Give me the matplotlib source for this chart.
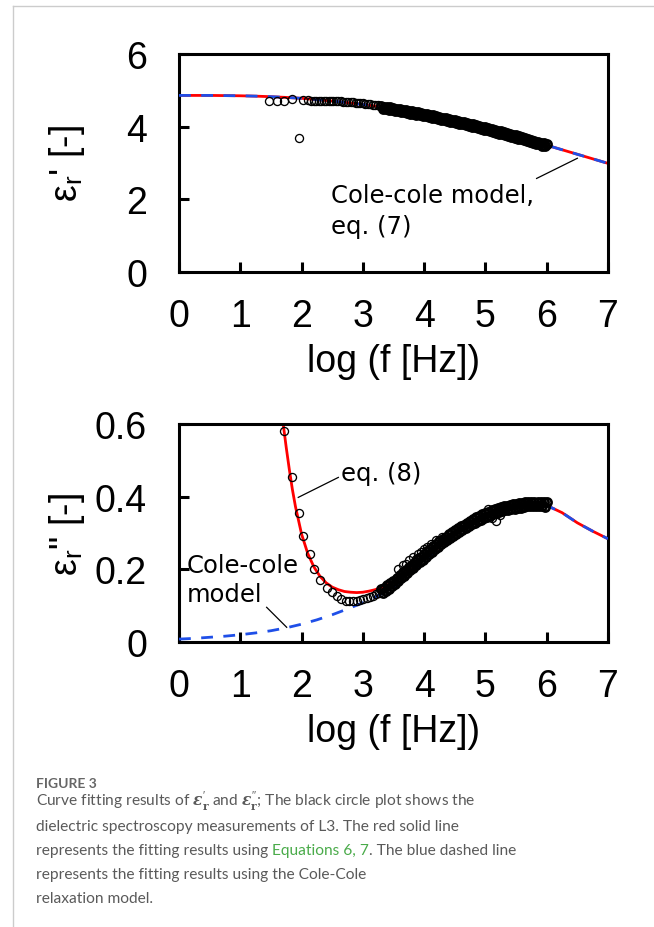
import matplotlib
matplotlib.use('Agg')
import matplotlib.pyplot as plt
from matplotlib.lines import Line2D
from matplotlib.text import Annotation

plt.rcParams['font.family'] = ['Liberation Sans', 'DejaVu Sans']
plt.rcParams['mathtext.fontset'] = 'custom'
plt.rcParams['mathtext.rm'] = 'Liberation Sans'
plt.rcParams['mathtext.it'] = 'DejaVu Serif:italic:bold'
plt.rcParams['mathtext.bf'] = 'DejaVu Serif:bold'
plt.rcParams['lines.scale_dashes'] = False

# ---------------- data ----------------
x_ticks = [0, 1, 2, 3, 4, 5, 6, 7]
y1_ticks = [0, 2, 4, 6]
y2_ticks = [0, 0.2, 0.4, 0.6]
y2_ticklabels = ['0', '0.2', '0.4', '0.6']

# fitted curves (log f, value)
fit_x = [0.0, 0.25, 0.5, 0.75, 1.0, 1.25, 1.5, 1.75, 2.0, 2.25, 2.5, 2.75, 3.0, 3.25,
         3.5, 3.75, 4.0, 4.25, 4.5, 4.75, 5.0, 5.25, 5.5, 5.75, 6.0, 6.25, 6.5, 6.75, 7.0]
eps1_fit = [4.86, 4.86, 4.86, 4.855, 4.85, 4.84, 4.825, 4.805, 4.78, 4.745, 4.705, 4.66,
            4.61, 4.555, 4.49, 4.415, 4.335, 4.245, 4.15, 4.055, 3.955, 3.845, 3.73,
            3.61, 3.49, 3.365, 3.24, 3.115, 2.99]
eps2_cole = [0.008, 0.010, 0.013, 0.016, 0.020, 0.025, 0.031, 0.039, 0.049, 0.061, 0.075,
             0.091, 0.108, 0.128, 0.150, 0.180, 0.224, 0.260, 0.293, 0.321, 0.345, 0.362,
             0.372, 0.378, 0.376, 0.356, 0.328, 0.305, 0.284]
eq8_x = [1.70, 1.75, 1.80, 1.85, 1.90, 2.00, 2.10, 2.20, 2.30, 2.40, 2.50, 2.60, 2.70,
         2.80, 2.90, 3.00, 3.10, 3.20, 3.30, 3.40, 3.50, 3.75, 4.00, 4.25, 4.50, 4.75,
         5.00, 5.25, 5.50, 5.75, 6.00, 6.25, 6.50, 6.75, 7.00]
eq8_y = [0.600, 0.535, 0.475, 0.420, 0.373, 0.297, 0.244, 0.207, 0.181, 0.163, 0.151,
         0.144, 0.139, 0.137, 0.136, 0.137, 0.140, 0.144, 0.150, 0.157, 0.166, 0.194,
         0.228, 0.262, 0.295, 0.322, 0.345, 0.362, 0.372, 0.378, 0.376, 0.356, 0.328,
         0.305, 0.284]

# measurements, low-frequency (sparse) part
meas1_x_low = [1.47, 1.60, 1.71, 1.85, 1.95, 2.02, 2.10, 2.15, 2.20, 2.24, 2.28, 2.32,
               2.36, 2.40, 2.44, 2.48, 2.52, 2.56, 2.60, 2.64, 2.68, 2.72, 2.76, 2.80,
               2.84, 2.88, 2.92, 2.96, 3.00, 3.04, 3.08, 3.12, 3.16, 3.20, 3.24, 3.28]
meas1_y_low = [4.71, 4.71, 4.72, 4.75, 3.70, 4.73, 4.74, 4.72, 4.71, 4.70, 4.71, 4.72,
               4.71, 4.70, 4.71, 4.72, 4.71, 4.70, 4.71, 4.70, 4.69, 4.69, 4.68, 4.68,
               4.67, 4.66, 4.66, 4.65, 4.64, 4.63, 4.63, 4.62, 4.61, 4.60, 4.59, 4.58]
meas2_x_low = [1.72, 1.85, 1.96, 2.02, 2.13, 2.21, 2.30, 2.41, 2.49, 2.57, 2.65, 2.72,
               2.78, 2.84, 2.90, 2.96, 3.01, 3.06, 3.11, 3.16, 3.21, 3.26]
meas2_y_low = [0.580, 0.455, 0.355, 0.293, 0.242, 0.201, 0.171, 0.150, 0.137, 0.126,
               0.118, 0.114, 0.112, 0.112, 0.113, 0.115, 0.117, 0.120, 0.124, 0.127,
               0.131, 0.135]

# measurements, dense part (shared log f grid)
meas_x_dense = [3.300, 3.325, 3.350, 3.375, 3.400, 3.425, 3.450, 3.475, 3.500, 3.525,
                3.550, 3.575, 3.600, 3.625, 3.650, 3.675, 3.700, 3.725, 3.750, 3.775,
                3.800, 3.825, 3.850, 3.875, 3.900, 3.925, 3.950, 3.975, 4.000, 4.025,
                4.050, 4.075, 4.100, 4.125, 4.150, 4.175, 4.200, 4.225, 4.250, 4.275,
                4.300, 4.325, 4.350, 4.375, 4.400, 4.425, 4.450, 4.475, 4.500, 4.525,
                4.550, 4.575, 4.600, 4.625, 4.650, 4.675, 4.700, 4.725, 4.750, 4.775,
                4.800, 4.825, 4.850, 4.875, 4.900, 4.925, 4.950, 4.975, 5.000, 5.025,
                5.050, 5.075, 5.100, 5.125, 5.150, 5.175, 5.200, 5.225, 5.250, 5.275,
                5.300, 5.325, 5.350, 5.375, 5.400, 5.425, 5.450, 5.475, 5.500, 5.525,
                5.550, 5.575, 5.600, 5.625, 5.650, 5.675, 5.700, 5.725, 5.750, 5.775,
                5.800, 5.825, 5.850, 5.875, 5.900, 5.925, 5.950, 5.975, 6.000]
meas1_y_dense = [4.57, 4.49, 4.55, 4.48, 4.54, 4.47, 4.53, 4.45, 4.52, 4.44,
                 4.50, 4.42, 4.49, 4.41, 4.47, 4.39, 4.46, 4.38, 4.44, 4.36,
                 4.42, 4.35, 4.41, 4.33, 4.39, 4.31, 4.38, 4.30, 4.36, 4.28,
                 4.34, 4.26, 4.32, 4.25, 4.31, 4.23, 4.29, 4.21, 4.27, 4.19,
                 4.25, 4.17, 4.23, 4.15, 4.21, 4.13, 4.19, 4.12, 4.18, 4.10,
                 4.16, 4.08, 4.14, 4.06, 4.12, 4.04, 4.10, 4.02, 4.08, 4.00,
                 4.06, 3.98, 4.04, 3.96, 4.02, 3.94, 4.00, 3.92, 3.98, 3.90,
                 3.96, 3.88, 3.94, 3.86, 3.91, 3.83, 3.89, 3.81, 3.87, 3.79,
                 3.85, 3.77, 3.82, 3.74, 3.80, 3.72, 3.78, 3.70, 3.76, 3.67,
                 3.73, 3.65, 3.71, 3.63, 3.68, 3.60, 3.66, 3.58, 3.64, 3.55,
                 3.61, 3.53, 3.59, 3.51, 3.56, 3.48, 3.54, 3.46, 3.52]
meas2_y_dense = [0.145, 0.135, 0.150, 0.141, 0.156, 0.147, 0.162, 0.154, 0.169, 0.161,
                 0.177, 0.168, 0.184, 0.176, 0.192, 0.183, 0.199, 0.191, 0.206, 0.198,
                 0.213, 0.205, 0.221, 0.212, 0.228, 0.220, 0.235, 0.227, 0.242, 0.234,
                 0.250, 0.241, 0.257, 0.249, 0.264, 0.256, 0.271, 0.262, 0.278, 0.269,
                 0.284, 0.275, 0.290, 0.281, 0.296, 0.287, 0.302, 0.292, 0.307, 0.298,
                 0.313, 0.303, 0.318, 0.309, 0.323, 0.314, 0.328, 0.319, 0.333, 0.324,
                 0.338, 0.328, 0.343, 0.333, 0.347, 0.337, 0.351, 0.341, 0.355, 0.345,
                 0.359, 0.348, 0.362, 0.352, 0.365, 0.355, 0.368, 0.357, 0.371, 0.360,
                 0.373, 0.362, 0.375, 0.364, 0.377, 0.366, 0.379, 0.367, 0.380, 0.369,
                 0.382, 0.370, 0.383, 0.372, 0.384, 0.373, 0.385, 0.373, 0.386, 0.374,
                 0.386, 0.374, 0.386, 0.374, 0.386, 0.373, 0.385, 0.372, 0.384]
# scattered outlying measurements in the loss plot
meas2_x_scatter = [3.58, 3.66, 3.71, 3.76, 3.82, 3.86, 3.90, 3.95, 3.99, 4.05, 4.12,
                   4.20, 4.29, 5.05, 5.10, 5.18, 5.24]
meas2_y_scatter = [0.201, 0.212, 0.215, 0.225, 0.233, 0.228, 0.242, 0.248, 0.256, 0.262,
                   0.270, 0.280, 0.290, 0.366, 0.342, 0.332, 0.350]

# ---------------- figure ----------------
W, H = 654, 928
fig = plt.figure(figsize=(W / 100, H / 100), dpi=100)


def axrect(l, t, r, b):
    return [l / W, 1 - b / H, (r - l) / W, (b - t) / H]


RED = '#ff0000'
BLUE = '#1f4fe8'
DASH = (0, (8.5, 7.5))
TICKFS = 27
ANNFS = 17.5

ax1 = fig.add_axes(axrect(179, 55, 608, 273))
ax2 = fig.add_axes(axrect(179, 425, 608, 643))

for ax in (ax1, ax2):
    for s in ax.spines.values():
        s.set_linewidth(2.2)
    ax.set_xlim(0, 7)
    ax.set_xticks(x_ticks)
    ax.set_xticklabels([str(t) for t in x_ticks])
    ax.tick_params(direction='in', length=7, width=2.2, labelsize=TICKFS)
    ax.tick_params(axis='x', pad=19)
    ax.tick_params(axis='y', pad=23)
    ax.set_xlabel('log (f [Hz])', fontsize=TICKFS, labelpad=6)

mk = dict(linestyle='none', marker='o', ms=5.8, mfc='none', mec='black', mew=0.95, zorder=4)
mkd = dict(mk, ms=5.9, mew=1.9)

# top: real part
ax1.set_ylim(0, 6)
ax1.set_yticks(y1_ticks)
ax1.set_yticklabels([str(t) for t in y1_ticks])
ax1.plot(fit_x, eps1_fit, color=RED, lw=2.0, zorder=2)
ax1.plot(fit_x, eps1_fit, color=BLUE, lw=2.0, linestyle=DASH, zorder=3)
ax1.plot(meas1_x_low, meas1_y_low, **mk)
ax1.plot(meas_x_dense, meas1_y_dense, **mkd)
ax1.set_ylabel(r"$\mathrm{ε}_\mathrm{r}$' [-]", fontsize=TICKFS)
ax1.yaxis.set_label_coords(-0.215, 0.5)
ax1.text(2.48, 1.92, 'Cole-cole model,', family='DejaVu Sans', fontsize=ANNFS, va='baseline')
ax1.text(2.48, 1.08, 'eq. (7)', family='DejaVu Sans', fontsize=ANNFS, va='baseline')
ax1.plot([5.835, 6.50], [2.575, 3.13], color='black', lw=0.9, zorder=5)

# bottom: imaginary part
ax2.set_ylim(0, 0.6)
ax2.set_yticks(y2_ticks)
ax2.set_yticklabels(y2_ticklabels)
ax2.plot(eq8_x, eq8_y, color=RED, lw=2.0, zorder=2)
ax2.plot(fit_x, eps2_cole, color=BLUE, lw=2.0, linestyle=DASH, zorder=3)
ax2.plot(meas2_x_low, meas2_y_low, **mk)
ax2.plot(meas_x_dense, meas2_y_dense, **mkd)
ax2.plot(meas2_x_scatter, meas2_y_scatter, **mk)
ax2.set_ylabel(r'$\mathrm{ε}_\mathrm{r}$" [-]', fontsize=TICKFS)
ax2.yaxis.set_label_coords(-0.215, 0.5)
ax2.text(2.65, 0.447, 'eq. (8)', family='DejaVu Sans', fontsize=ANNFS, va='baseline')
ax2.plot([1.946, 2.60], [0.398, 0.453], color='black', lw=0.9, zorder=5)
ax2.text(0.125, 0.192, 'Cole-cole', family='DejaVu Sans', fontsize=ANNFS, va='baseline')
ax2.text(0.125, 0.114, 'model', family='DejaVu Sans', fontsize=ANNFS, va='baseline')
ax2.plot([1.43, 1.757], [0.0955, 0.0405], color='black', lw=0.9, zorder=5)

# page frame
fig.add_artist(Line2D([13 / W, 1], [1 - 7 / H, 1 - 7 / H], transform=fig.transFigure,
                      color='#cccccc', lw=1.0))
fig.add_artist(Line2D([13 / W, 13 / W], [1 - 7 / H, 0], transform=fig.transFigure,
                      color='#cccccc', lw=1.0))

# caption
GRAY = '#5a5a5a'
GREEN = '#4aab4a'
CAPF = 'Lato'
CAPFS = 11.2
X0 = 36 / W
fig.text(X0, 1 - 788 / H, 'FIGURE 3', family=CAPF, fontsize=10, fontweight='bold',
         color='#666666', va='baseline')


def cap_line(y_px, parts):
    t = fig.text(X0, 1 - y_px / H, parts[0][0], family=CAPF, fontsize=CAPFS,
                 color=parts[0][1], va='baseline')
    for s, c, gap in parts[1:]:
        a = Annotation(s, xy=(1, 0), xycoords=t, xytext=(gap, 0),
                       textcoords='offset points', va='bottom', ha='left',
                       family=CAPF, fontsize=CAPFS, color=c)
        fig.add_artist(a)
        t = a


cap_line(807, [(r"Curve fitting results of $\mathit{ε}_\mathbf{r}^{\prime}$ and "
                r"$\mathit{ε}_\mathbf{r}^{\prime\prime}$; The black circle plot shows the", GRAY)])
cap_line(831, [("dielectric spectroscopy measurements of L3. The red solid line", GRAY)])
cap_line(855, [("represents the fitting results using", GRAY), ("Equations 6, 7", GREEN, 2.8),
               (". The blue dashed line", GRAY, 0)])
cap_line(879, [("represents the fitting results using the Cole-Cole", GRAY)])
cap_line(903, [("relaxation model.", GRAY)])

fig.savefig('out.png', dpi=100)
